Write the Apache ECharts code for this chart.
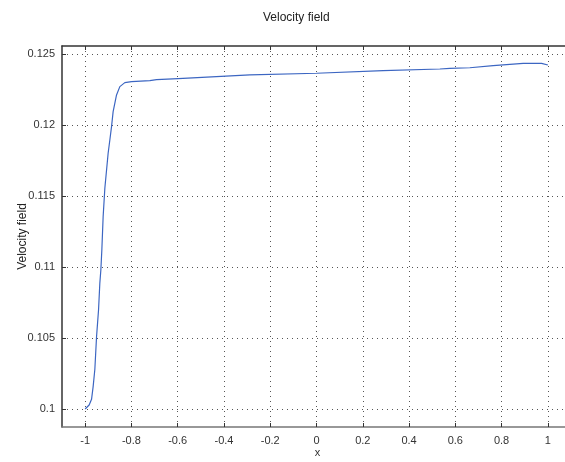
<!DOCTYPE html>
<html>
<head>
<meta charset="utf-8">
<script src="https://cdn.jsdelivr.net/npm/echarts@6/dist/echarts.min.js"></script>
<style>
  html, body { margin: 0; padding: 0; background: #fff; }
  #chart { width: 565px; height: 462px; }
</style>
</head>
<body>
<div id="chart"></div>
<script>
// Velocity profile along x
const xValues = [
  -1.0, -0.997, -0.9827, -0.9723, -0.9654, -0.958, -0.9507, -0.9464, -0.9421,
  -0.9365, -0.9321, -0.9278, -0.9222, -0.9148, -0.9006, -0.8932, -0.8859,
  -0.879, -0.8643, -0.85, -0.8284, -0.7994, -0.7203, -0.6914, -0.598,
  -0.2881, 0.0, 0.2881, 0.5332, 0.5764, 0.6629, 0.7636, 0.8932, 0.9728, 1.0
];
const velocity = [
  0.1, 0.1, 0.10028, 0.10068, 0.10157, 0.1028, 0.10509, 0.10603, 0.10697,
  0.10885, 0.10979, 0.1112, 0.11354, 0.11554, 0.11801, 0.11894, 0.11988,
  0.12094, 0.12211, 0.1227, 0.12298, 0.12305, 0.12312, 0.12319, 0.12326,
  0.12352, 0.12364, 0.12382, 0.12394, 0.12399, 0.12403, 0.12418, 0.12434, 0.12434, 0.12422
];
const xTicks = [-1, -0.8, -0.6, -0.4, -0.2, 0, 0.2, 0.4, 0.6, 0.8, 1];
const yTicks = [0.1, 0.105, 0.11, 0.115, 0.12, 0.125];

const FONT = 'Liberation Sans';
const chart = echarts.init(document.getElementById('chart'), null, { renderer: 'canvas' });

const dotted = { show: true, lineStyle: { color: '#555', type: [1, 4], width: 1 } };
const fmtX = v => String(Math.round(v * 10) / 10);
const fmtY = v => String(Math.round(v * 1000) / 1000);

chart.setOption({
  animation: false,
  backgroundColor: '#fff',
  title: {
    text: 'Velocity field',
    left: 258, top: 7,
    textStyle: { fontFamily: FONT, fontSize: 12, fontWeight: 'normal', color: '#222' }
  },
  grid: { left: 62, top: 46, width: 509, height: 381, containLabel: false, outerBoundsMode: 'none' },
  xAxis: [{
    type: 'value', min: -1.1, max: 1.1, position: 'bottom',
    name: 'x', nameLocation: 'middle', nameGap: 20, nameMoveOverlap: false,
    nameTextStyle: { fontFamily: FONT, fontSize: 11, color: '#333', padding: [0, 0, 0, 2] },
    axisLine: { show: true, onZero: false, lineStyle: { color: '#777', width: 1.5 } },
    axisTick: { show: true, inside: true, length: 4, customValues: xTicks, lineStyle: { color: '#333' } },
    axisLabel: { customValues: xTicks, formatter: fmtX, margin: 8, fontFamily: FONT, fontSize: 11, color: '#333' },
    splitLine: dotted
  }, {
    type: 'value', min: -1.1, max: 1.1, position: 'top',
    axisLine: { show: true, onZero: false, lineStyle: { color: '#333', width: 1.5 } },
    axisTick: { show: true, inside: true, length: 4, customValues: xTicks, lineStyle: { color: '#333' } },
    axisLabel: { show: false },
    splitLine: { show: false }
  }],
  yAxis: [{
    type: 'value', min: 0.09873, max: 0.12556, position: 'left',
    name: 'Velocity field', nameLocation: 'middle', nameGap: 33, nameRotate: 90, nameMoveOverlap: false,
    nameTextStyle: { fontFamily: FONT, fontSize: 12, color: '#222' },
    axisLine: { show: true, onZero: false, lineStyle: { color: '#333', width: 1.5 } },
    axisTick: { show: true, inside: true, length: 4, customValues: yTicks, lineStyle: { color: '#333' } },
    axisLabel: { customValues: yTicks, formatter: fmtY, margin: 7, fontFamily: FONT, fontSize: 11, color: '#333' },
    splitLine: dotted
  }, {
    type: 'value', min: 0.09873, max: 0.12556, position: 'right',
    axisLine: { show: true, onZero: false, lineStyle: { color: '#333', width: 1.5 } },
    axisTick: { show: true, inside: true, length: 4, customValues: yTicks },
    axisLabel: { show: false },
    splitLine: { show: false }
  }],
  series: [{
    type: 'line',
    xAxisIndex: 0, yAxisIndex: 0,
    data: xValues.map((x, i) => [x, velocity[i]]),
    showSymbol: false,
    lineStyle: { color: '#3c66c2', width: 1.2 },
    z: 5
  }]
});
</script>
</body>
</html>
